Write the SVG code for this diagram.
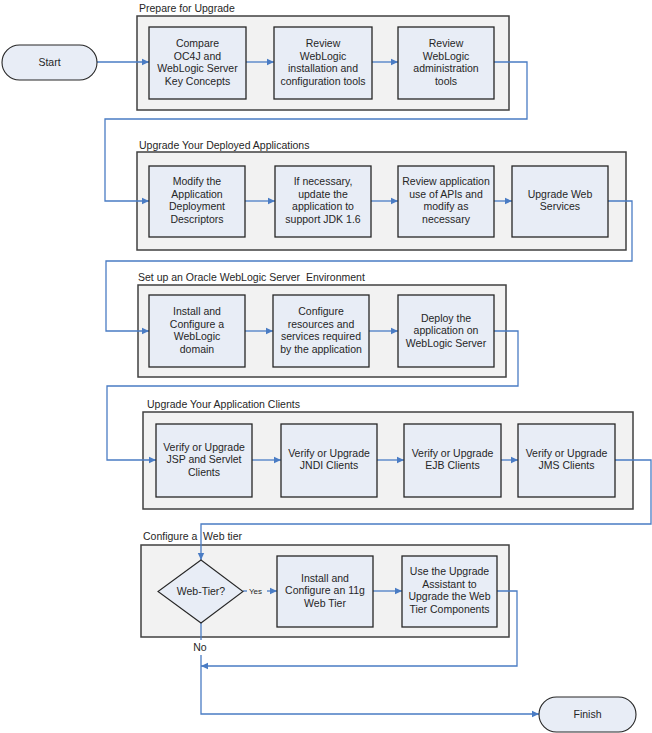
<svg xmlns="http://www.w3.org/2000/svg" width="652" height="733" viewBox="0 0 652 733">
<defs>
<style>
.grp{fill:#f2f2f2;stroke:#404040;stroke-width:1.5}
.node{fill:#e8edf6;stroke:#262626;stroke-width:1.3}
.term{fill:#e8edf6;stroke:#262626;stroke-width:1.1}
text{font-family:"Liberation Sans",Arial,sans-serif;font-size:10.5px;fill:#262626}
.c{text-anchor:middle}
.small{font-size:8px}
.con{fill:none;stroke:#4a7cc4;stroke-width:1.3}
</style>
<marker id="arr" markerWidth="8" markerHeight="8" refX="7" refY="4" orient="auto" markerUnits="userSpaceOnUse">
<path d="M0,0.8 L7,4 L0,7.2 Z" fill="#4a7cc4"/>
</marker>
</defs>
<rect width="652" height="733" fill="#fff"/>

<g id="group1">
<rect class="grp" x="137" y="16" width="372" height="94"/>
<text x="139" y="12">Prepare for Upgrade</text>
</g>
<g id="group2">
<rect class="grp" x="137" y="152" width="489" height="98"/>
<text x="139" y="149">Upgrade Your Deployed Applications</text>
</g>
<g id="group3">
<rect class="grp" x="138" y="285" width="368" height="92"/>
<text x="138" y="281" xml:space="preserve">Set up an Oracle WebLogic Server  Environment</text>
</g>
<g id="group4">
<rect class="grp" x="143" y="412" width="490" height="97"/>
<text x="147" y="408">Upgrade Your Application Clients</text>
</g>
<g id="group5">
<rect class="grp" x="141" y="545" width="368" height="92"/>
<text x="143" y="540" xml:space="preserve">Configure a  Web tier</text>
</g>

<g id="connectors">
<path class="con" d="M97,62 H149" marker-end="url(#arr)"/>
<path class="con" d="M246,62 H274" marker-end="url(#arr)"/>
<path class="con" d="M372,62 H398" marker-end="url(#arr)"/>
<path class="con" d="M494,62 H527 V119 H105 V201 H149" marker-end="url(#arr)"/>
<path class="con" d="M245,201 H275" marker-end="url(#arr)"/>
<path class="con" d="M371,201 H398" marker-end="url(#arr)"/>
<path class="con" d="M494,201 H512" marker-end="url(#arr)"/>
<path class="con" d="M608,201 H632 V261 H106 V331 H149" marker-end="url(#arr)"/>
<path class="con" d="M245,331 H273" marker-end="url(#arr)"/>
<path class="con" d="M369,331 H398" marker-end="url(#arr)"/>
<path class="con" d="M494,331 H518 V386 H107 V460 H156" marker-end="url(#arr)"/>
<path class="con" d="M252,460 H281" marker-end="url(#arr)"/>
<path class="con" d="M377,460 H404" marker-end="url(#arr)"/>
<path class="con" d="M501,460 H518" marker-end="url(#arr)"/>
<path class="con" d="M615,460 H651 V524 H201 V560" marker-end="url(#arr)"/>
<path class="con" d="M243,591 H247"/>
<path class="con" d="M267,591 H277" marker-end="url(#arr)"/>
<path class="con" d="M373,591 H402" marker-end="url(#arr)"/>
<path class="con" d="M497,591 H517 V666 H201" marker-end="url(#arr)"/>
<path class="con" d="M201,623 V640"/>
<path class="con" d="M201,655 V714 H539" marker-end="url(#arr)"/>
<text class="small" x="249" y="594">Yes</text>
<text class="c" x="200" y="651">No</text>
</g>

<g id="start">
<rect class="term" x="2" y="45" width="95" height="35" rx="17.5"/>
<text class="c" x="49.5" y="66">Start</text>
</g>
<g id="n1">
<rect class="node" x="149" y="27" width="97" height="72"/>
<text class="c" x="197.5" y="47">Compare</text>
<text class="c" x="197.5" y="59.6">OC4J and</text>
<text class="c" x="197.5" y="72.2">WebLogic Server</text>
<text class="c" x="197.5" y="84.8">Key Concepts</text>
</g>
<g id="n2">
<rect class="node" x="274" y="27" width="98" height="72"/>
<text class="c" x="323" y="47">Review</text>
<text class="c" x="323" y="59.6">WebLogic</text>
<text class="c" x="323" y="72.2">installation and</text>
<text class="c" x="323" y="84.8">configuration tools</text>
</g>
<g id="n3">
<rect class="node" x="398" y="27" width="96" height="72"/>
<text class="c" x="446" y="47">Review</text>
<text class="c" x="446" y="59.6">WebLogic</text>
<text class="c" x="446" y="72.2">administration</text>
<text class="c" x="446" y="84.8">tools</text>
</g>
<g id="n4">
<rect class="node" x="149" y="166" width="96" height="71"/>
<text class="c" x="197" y="185">Modify the</text>
<text class="c" x="197" y="197.6">Application</text>
<text class="c" x="197" y="210.2">Deployment</text>
<text class="c" x="197" y="222.8">Descriptors</text>
</g>
<g id="n5">
<rect class="node" x="275" y="166" width="96" height="71"/>
<text class="c" x="323" y="185">If necessary,</text>
<text class="c" x="323" y="197.6">update the</text>
<text class="c" x="323" y="210.2">application to</text>
<text class="c" x="323" y="222.8">support JDK 1.6</text>
</g>
<g id="n6">
<rect class="node" x="398" y="166" width="96" height="71"/>
<text class="c" x="446" y="185">Review application</text>
<text class="c" x="446" y="197.6">use of APIs and</text>
<text class="c" x="446" y="210.2">modify as</text>
<text class="c" x="446" y="222.8">necessary</text>
</g>
<g id="n7">
<rect class="node" x="512" y="166" width="96" height="71"/>
<text class="c" x="560" y="197.6">Upgrade Web</text>
<text class="c" x="560" y="210.2">Services</text>
</g>
<g id="n8">
<rect class="node" x="149" y="295" width="96" height="72"/>
<text class="c" x="197" y="315">Install and</text>
<text class="c" x="197" y="327.6">Configure a</text>
<text class="c" x="197" y="340.2">WebLogic</text>
<text class="c" x="197" y="352.8">domain</text>
</g>
<g id="n9">
<rect class="node" x="273" y="295" width="96" height="72"/>
<text class="c" x="321" y="315">Configure</text>
<text class="c" x="321" y="327.6">resources and</text>
<text class="c" x="321" y="340.2">services required</text>
<text class="c" x="321" y="352.8">by the application</text>
</g>
<g id="n10">
<rect class="node" x="398" y="295" width="96" height="72"/>
<text class="c" x="446" y="321.5">Deploy the</text>
<text class="c" x="446" y="334.1">application on</text>
<text class="c" x="446" y="346.7">WebLogic Server</text>
</g>
<g id="n11">
<rect class="node" x="156" y="424" width="96" height="73"/>
<text class="c" x="204" y="450.5">Verify or Upgrade</text>
<text class="c" x="204" y="463.1">JSP and Servlet</text>
<text class="c" x="204" y="475.7">Clients</text>
</g>
<g id="n12">
<rect class="node" x="281" y="424" width="96" height="73"/>
<text class="c" x="329" y="456.8">Verify or Upgrade</text>
<text class="c" x="329" y="469.4">JNDI Clients</text>
</g>
<g id="n13">
<rect class="node" x="404" y="424" width="97" height="73"/>
<text class="c" x="452.5" y="456.8">Verify or Upgrade</text>
<text class="c" x="452.5" y="469.4">EJB Clients</text>
</g>
<g id="n14">
<rect class="node" x="518" y="424" width="97" height="73"/>
<text class="c" x="566.5" y="456.8">Verify or Upgrade</text>
<text class="c" x="566.5" y="469.4">JMS Clients</text>
</g>
<g id="decision">
<polygon class="node" points="201,560 243,591.5 201,623 158,591.5" style="stroke-width:1.1"/>
<text class="c" x="201" y="595">Web-Tier?</text>
</g>
<g id="n15">
<rect class="node" x="277" y="556" width="96" height="71"/>
<text class="c" x="325" y="581.5">Install and</text>
<text class="c" x="325" y="594.1">Configure an 11g</text>
<text class="c" x="325" y="606.7">Web Tier</text>
</g>
<g id="n16">
<rect class="node" x="402" y="556" width="95" height="71"/>
<text class="c" x="449.5" y="575">Use the Upgrade</text>
<text class="c" x="449.5" y="587.6">Assistant to</text>
<text class="c" x="449.5" y="600.2">Upgrade the Web</text>
<text class="c" x="449.5" y="612.8">Tier Components</text>
</g>
<g id="finish">
<rect class="term" x="539" y="697" width="97" height="35" rx="17.5"/>
<text class="c" x="587.5" y="718">Finish</text>
</g>
</svg>
